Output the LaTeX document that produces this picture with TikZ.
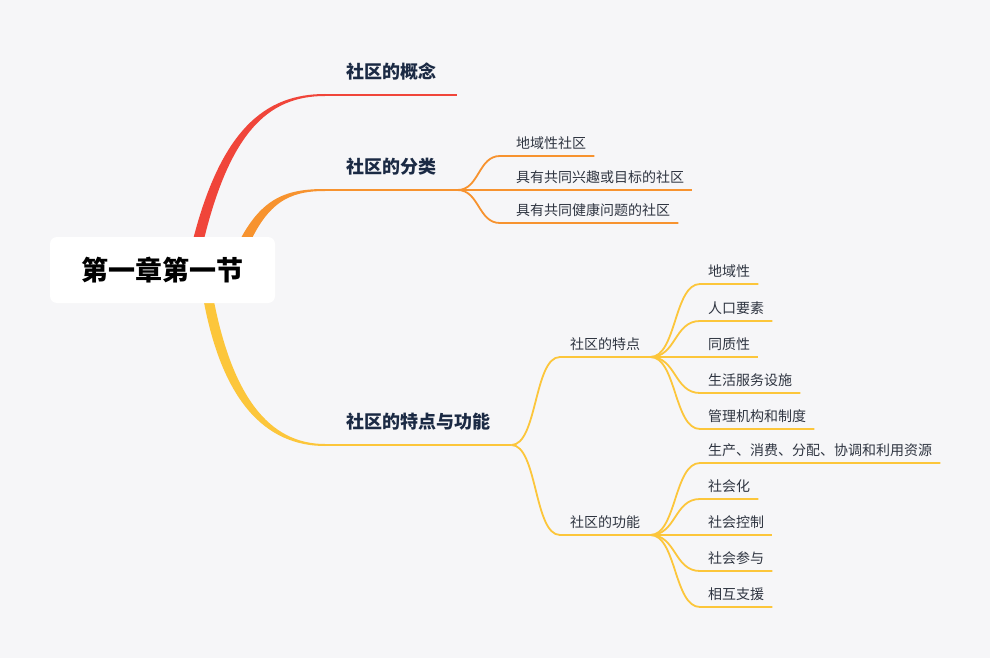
\documentclass[tikz,border=0pt]{standalone}
\usepackage{fontspec}
\newfontfamily\cjk{Noto Sans CJK SC}
\usetikzlibrary{calc}
\definecolor{bgc}{HTML}{F6F6F8}
\definecolor{cred}{HTML}{F0453A}
\definecolor{corange}{HTML}{F7932F}
\definecolor{cyellow}{HTML}{FCC63B}
\definecolor{ctitle}{HTML}{1B2A44}
\definecolor{ctext}{HTML}{2F3541}
\begin{document}
\begin{tikzpicture}[x=1pt,y=-1pt,
  rootbox/.style={rectangle, rounded corners=7pt, fill=white, minimum width=225pt, minimum height=66pt,
    font=\cjk\bfseries\fontsize{27}{30}\selectfont, text=black},
  mainlbl/.style={anchor=south west, inner xsep=21pt, inner ysep=0pt, text height=14pt, text depth=16.2pt,
    font=\cjk\bfseries\fontsize{18}{20}\selectfont, text=ctitle},
  sublbl/.style={anchor=south west, inner xsep=10pt, inner ysep=0pt, text height=12pt, text depth=7.7pt,
    font=\cjk\fontsize{14}{16}\selectfont, text=ctext},
  leaf/.style={anchor=south west, inner xsep=8pt, inner ysep=0pt, text height=12pt, text depth=7.7pt,
    font=\cjk\fontsize{14}{16}\selectfont, text=ctext},
  orangeln/.style={draw=corange, line width=1.8pt},
  yellowln/.style={draw=cyellow, line width=1.8pt},
  redln/.style={draw=cred, line width=2pt},
  bend/.style={}
]
\fill[bgc] (0,0) rectangle (990,658);
\useasboundingbox (0,0) rectangle (990,658);

% main labels
\node[mainlbl] (m1) at (325,95) {社区的概念};
\node[mainlbl] (m2) at (325,190) {社区的分类};
\node[mainlbl] (m3) at (325,445) {社区的特点与功能};

% tapered main branches
\fill[cred] (190,252) .. controls (219,128) and (266,94) .. ($(m1.south west)+(0,-1)$)
  -- ($(m1.south west)+(0,1)$) .. controls (268,96) and (228,132) .. (201,252) -- cycle;
\fill[corange] (235,250) .. controls (259,198) and (285,189) .. ($(m2.south west)+(0,-1)$)
  -- ($(m2.south west)+(0,1)$) .. controls (289,191) and (266,202) .. (245,254) -- cycle;
\fill[cyellow] (201,285) .. controls (219,402) and (266,446) .. ($(m3.south west)+(0,1)$)
  -- ($(m3.south west)+(0,-1)$) .. controls (270,444) and (230,398) .. (211,285) -- cycle;

\draw[redln] (m1.south west) -- (m1.south east);
\draw[orangeln] (m2.south west) -- (m2.south east);
\draw[yellowln] (m3.south west) -- (m3.south east);

% root
\node[rootbox] (root) at (162.5,270) {第一章第一节};

% classification leaves
\node[leaf] (c1) at (500,156) {\hspace*{8pt}地域性社区};
\node[leaf] (c2) at (500,190) {\hspace*{8pt}具有共同兴趣或目标的社区};
\node[leaf] (c3) at (500,223) {\hspace*{8pt}具有共同健康问题的社区};
\foreach \c in {c1,c2,c3}
  \draw[orangeln] (m2.south east) .. controls +(22,0) and +(-22,0) .. (\c.south west) -- (\c.south east);

% sub labels
\node[sublbl] (s1) at (560,357) {社区的特点};
\node[sublbl] (s2) at (560,535) {社区的功能};
\foreach \s in {s1,s2}
  \draw[yellowln] (m3.south east) .. controls +(26,0) and +(-26,0) .. (\s.south west) -- (\s.south east);

% features
\node[leaf] (f1) at (700,284) {地域性};
\node[leaf] (f2) at (700,321) {人口要素};
\node[leaf] (f3) at (700,357) {同质性};
\node[leaf] (f4) at (700,393) {生活服务设施};
\node[leaf] (f5) at (700,429) {管理机构和制度};
\foreach \f in {f1,f2,f3,f4,f5}
  \draw[yellowln] (s1.south east) .. controls +(26,0) and +(-26,0) .. (\f.south west) -- (\f.south east);

% functions
\node[leaf] (g1) at (700,463) {生产、消费、分配、协调和利用资源};
\node[leaf] (g2) at (700,499) {社会化};
\node[leaf] (g3) at (700,535) {社会控制};
\node[leaf] (g4) at (700,571) {社会参与};
\node[leaf] (g5) at (700,607) {相互支援};
\foreach \g in {g1,g2,g3,g4,g5}
  \draw[yellowln] (s2.south east) .. controls +(26,0) and +(-26,0) .. (\g.south west) -- (\g.south east);
\end{tikzpicture}
\end{document}
